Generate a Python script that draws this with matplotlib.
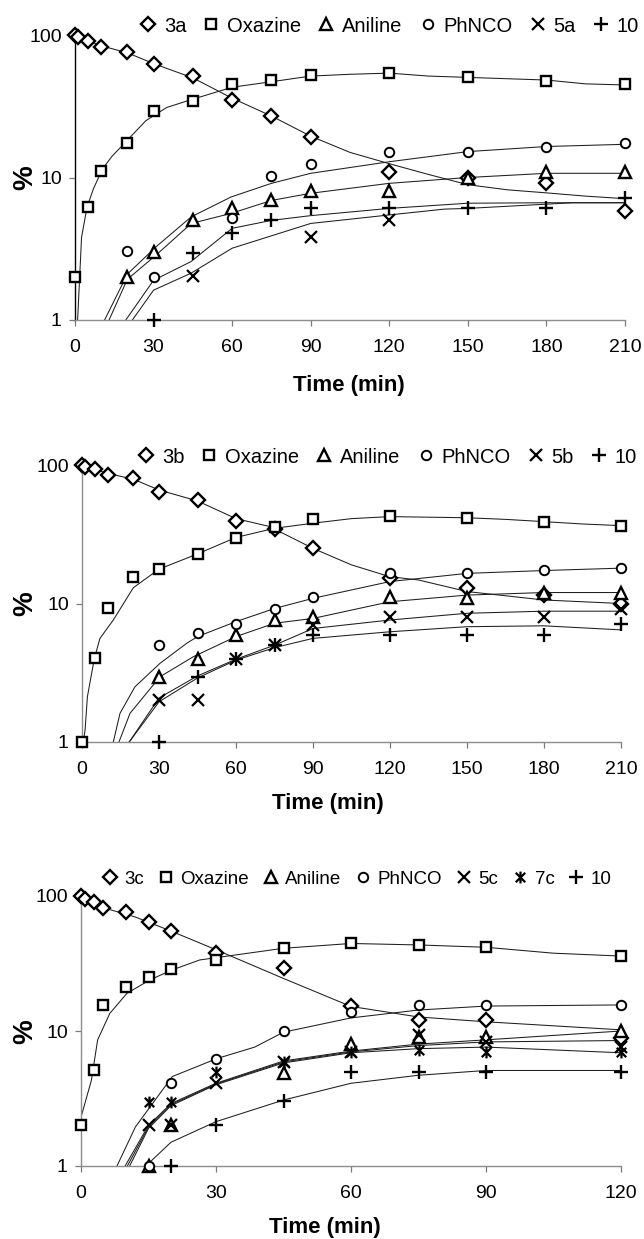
import matplotlib
matplotlib.use('Agg')
import matplotlib.pyplot as plt
from matplotlib.path import Path
from matplotlib.lines import Line2D
from matplotlib.ticker import NullLocator, FixedLocator, FixedFormatter

plt.rcParams['font.family'] = ['Liberation Sans', 'DejaVu Sans']

# ---------------- Panel A data (3a) ----------------
a_t_3 = [0, 1, 5, 10, 20, 30, 45, 60, 75, 90, 120, 150, 180, 210]
a_v_3 = [100, 97, 91, 83, 75.6, 62.6, 51.6, 35, 27.2, 19.3, 11, 10, 9.2, 5.8]
a_t_ox = [0, 5, 10, 20, 30, 45, 60, 75, 90, 120, 150, 180, 210]
a_v_ox = [2.0, 6.2, 11.1, 17.4, 29.3, 34.3, 45, 48.3, 52.7, 54.4, 51, 47.8, 45]
a_t_an = [20, 30, 45, 60, 75, 90, 120, 150, 180, 210]
a_v_an = [2.0, 3.0, 5.0, 6.1, 7.0, 8.0, 8.1, 10, 11, 11]
a_t_ph = [20, 30, 60, 75, 90, 120, 150, 180, 210]
a_v_ph = [3.05, 2.0, 5.2, 10.2, 12.4, 15.2, 15.2, 16.3, 17.4]
a_t_5 = [45, 90, 120]
a_v_5 = [2.04, 3.8, 5.0]
a_t_10 = [30, 45, 60, 75, 90, 120, 150, 180, 210]
a_v_10 = [1.0, 2.97, 4.1, 5.03, 6.07, 6.07, 6.07, 6.07, 7.14]

# fitted curves, panel A
a_ct_3 = [0, 5, 10, 20, 30, 45, 60, 75, 90, 105, 120, 135, 150, 165, 180, 195, 210]
a_cv_3 = [100, 91, 84, 75, 63, 50, 36, 27, 19.5, 15, 12.5, 10.5, 8.9, 8.2, 7.8, 7.4, 7.1]
a_ct_ox = [1, 2.5, 4.6, 7, 9, 11, 14, 17, 22, 27, 35, 44, 60, 75, 90, 105, 120, 135, 150, 180, 195, 210]
a_cv_ox = [1, 3.8, 6.2, 8.3, 10, 11.8, 14, 16, 20, 25, 31, 35, 43, 47, 51.5, 53, 54, 51.5, 50.4, 48.3, 45.4, 44.6]
a_ct_ph = [11.3, 20, 31, 44.4, 59.6, 75, 90, 120, 150, 180, 210]
a_cv_ph = [1, 2.1, 3.27, 5.3, 7.3, 9.1, 10.7, 12.9, 15.2, 16.5, 17.1]
a_ct_an = [13, 20, 31, 44.4, 59.6, 75, 90, 120, 150, 180, 210]
a_cv_an = [1, 1.93, 2.86, 4.76, 5.6, 6.9, 7.75, 9.1, 10, 10.7, 10.7]
a_ct_10 = [19.4, 30, 44.3, 60, 75, 90, 120, 150, 180, 210]
a_cv_10 = [1, 1.9, 2.57, 4.4, 5.0, 5.4, 6.07, 6.6, 6.65, 6.65]
a_ct_5 = [21.9, 30, 44.3, 60, 90, 120, 141, 150, 180, 190, 210]
a_cv_5 = [1, 1.62, 2.13, 3.19, 4.76, 5.46, 6.0, 6.07, 6.5, 6.65, 6.65]

# ---------------- Panel B data (3b) ----------------
b_t_3 = [0, 1, 5, 10, 20, 30, 45, 60, 75, 90, 120, 150, 180, 210]
b_v_3 = [100, 97, 93.5, 84.7, 80.2, 64.2, 55.9, 39.6, 34.3, 25.3, 15.2, 13, 11.5, 10]
b_t_ox = [0, 5, 10, 20, 30, 45, 60, 75, 90, 120, 150, 180, 210]
b_v_ox = [1.0, 4.02, 9.23, 15.6, 17.7, 22.8, 29.6, 35.9, 40.5, 43, 41.6, 39, 36.5]
b_t_an = [30, 45, 60, 75, 90, 120, 150, 180, 210]
b_v_an = [2.93, 3.96, 5.9, 7.6, 8.03, 11.2, 10.9, 12, 12]
b_t_ph = [30, 45, 60, 75, 90, 120, 150, 180, 210]
b_v_ph = [5.0, 6.1, 7.1, 9.2, 11.2, 16.5, 16.5, 17.5, 18.1]
b_t_5 = [30, 45, 60, 75, 90, 120, 150, 180, 210]
b_v_5 = [2.01, 2.0, 3.96, 5.0, 7.0, 8.0, 8.0, 8.0, 9.2]
b_t_10 = [30, 45, 60, 75, 90, 120, 150, 180, 210]
b_v_10 = [1.0, 2.96, 3.96, 5.0, 5.9, 5.9, 5.9, 5.9, 7.1]

b_ct_3 = [0, 5, 10, 20, 30, 45, 60, 73, 90, 105, 120, 131, 150, 180, 210]
b_cv_3 = [100, 93, 87, 79, 66, 55, 41, 36, 25, 19, 15.6, 14.8, 12.2, 10.6, 10.0]
b_ct_ox = [0.5, 1.2, 2.1, 4.8, 7, 12.2, 20, 30, 45, 60, 75, 90, 105, 120, 135, 150, 165, 180, 195, 210]
b_cv_ox = [1, 1.22, 2.12, 4.0, 5.6, 7.6, 13, 17.7, 22.8, 30, 34.9, 38, 41, 42.4, 42, 41.6, 40.5, 39, 37.5, 36.5]
b_ct_ph = [12.2, 14.8, 20.6, 30.4, 40.8, 45, 60, 75, 90, 120, 150, 180, 210]
b_cv_ph = [1, 1.61, 2.5, 3.7, 5.16, 5.77, 7.4, 9.2, 10.9, 14.4, 16.5, 17.3, 18]
b_ct_an = [14.4, 18.7, 30.4, 43.4, 60, 75, 90, 120, 150, 180, 210]
b_cv_an = [1, 1.61, 2.96, 4.13, 5.77, 7.2, 7.8, 10.3, 11.5, 12, 12]
b_ct_5 = [18.4, 30, 45, 60, 75, 90, 120, 150, 180, 210]
b_cv_5 = [1, 2.08, 3.0, 3.96, 5.0, 6.6, 7.6, 8.5, 8.8, 8.8]
b_ct_10 = [18.4, 30, 45, 60, 75, 90, 120, 150, 180, 210]
b_cv_10 = [1, 1.95, 2.9, 3.9, 4.8, 5.6, 6.25, 6.8, 6.9, 6.45]

# ---------------- Panel C data (3c) ----------------
c_t_3 = [0, 1, 3, 5, 10, 15, 20, 30, 45, 60, 75, 90, 120]
c_v_3 = [100, 94.5, 89.8, 81.9, 76.5, 63.8, 55.3, 38, 29.1, 15.3, 12.1, 12.1, 8.8]
c_t_ox = [0, 3, 5, 10, 15, 20, 30, 45, 60, 75, 90, 120]
c_v_ox = [2.01, 5.14, 15.6, 21.3, 25, 28.8, 33.6, 41, 45.1, 43.4, 42.1, 35.9]
c_t_an = [15, 20, 45, 60, 75, 90, 120]
c_v_an = [1.0, 2.0, 4.9, 8.0, 9.0, 9.0, 10.0]
c_t_ph = [15, 20, 30, 45, 60, 75, 90, 120]
c_v_ph = [1.0, 4.1, 6.17, 10.05, 13.9, 15.6, 15.6, 15.6]
c_t_5 = [15, 20, 30, 45, 60, 75, 90, 120]
c_v_5 = [2.0, 2.0, 4.1, 5.9, 7.0, 9.3, 8.3, 7.6]
c_t_7 = [15, 20, 30, 45, 60, 75, 90, 120]
c_v_7 = [3.0, 3.0, 5.0, 5.9, 7.0, 7.2, 7.0, 7.0]
c_t_10 = [20, 30, 45, 60, 75, 90, 120]
c_v_10 = [1.0, 2.0, 3.03, 5.0, 5.0, 5.0, 5.0]

c_ct_3 = [0, 3, 6, 12, 20, 30, 45, 60, 75, 90, 120]
c_cv_3 = [100, 90, 80, 70, 55, 40, 24.5, 15.2, 12.7, 11.7, 10.2]
c_ct_ox = [0, 2.3, 3.7, 6.4, 10.2, 15.3, 20.2, 26.4, 45, 60, 75, 90, 105, 120]
c_cv_ox = [2.3, 4.3, 8.6, 13.5, 19, 23.9, 28.3, 33.6, 41, 44.5, 43.4, 41.7, 37.7, 35.9]
c_ct_ph = [8, 12.1, 20.3, 30.2, 38.6, 45, 60, 75, 90, 120]
c_cv_ph = [1, 1.95, 4.6, 6.25, 7.6, 9.8, 12.5, 14.3, 15.3, 15.6]
c_ct_an = [9.8, 15, 20, 30, 45, 60, 75, 90, 120]
c_cv_an = [1, 2.0, 2.9, 4.1, 6.0, 7.1, 8.0, 8.6, 10.0]
c_ct_5 = [10.3, 15, 20, 30, 45, 60, 75, 90, 120]
c_cv_5 = [1, 1.95, 2.85, 4.05, 5.9, 7.0, 7.8, 8.3, 8.5]
c_ct_7 = [10.8, 15, 20, 30, 45, 60, 75, 90, 120]
c_cv_7 = [1, 1.9, 2.8, 4.0, 5.8, 6.9, 7.4, 7.6, 6.9]
c_ct_10 = [14.4, 20, 30, 45, 60, 75, 90, 120]
c_cv_10 = [1, 1.5, 2.13, 3.08, 4.1, 4.7, 5.1, 5.1]

labels_a = ['3a', 'Oxazine', 'Aniline', 'PhNCO', '5a', '10']
labels_b = ['3b', 'Oxazine', 'Aniline', 'PhNCO', '5b', '10']
labels_c = ['3c', 'Oxazine', 'Aniline', 'PhNCO', '5c', '7c', '10']
xticks_ab = [0, 30, 60, 90, 120, 150, 180, 210]
xticks_c = [0, 30, 60, 90, 120]
yticks = [1, 10, 100]

# ---------------- styling ----------------
W, H = 644, 1239
fig = plt.figure(figsize=(W / 100, H / 100), dpi=100)

asterisk = Path([(-1, -1), (1, 1), (-1, 1), (1, -1), (0, -1.25), (0, 1.25)],
                [Path.MOVETO, Path.LINETO] * 3)
STY = {
    'D': dict(marker='D', ms=7.0, mew=1.7),
    's': dict(marker='s', ms=7.2, mew=1.7),
    '^': dict(marker='^', ms=8.5, mew=1.7),
    'o': dict(marker='o', ms=6.8, mew=1.4),
    'x': dict(marker='x', ms=8.5, mew=1.6),
    '*': dict(marker=asterisk, ms=8.5, mew=1.6),
    '+': dict(marker='+', ms=10.5, mew=1.7),
}


def rect(l, r, top, bottom):
    return [l / W, 1 - bottom / H, (r - l) / W, (bottom - top) / H]


def panel(box, xmax, xticks, curves, series, labels, leg_x, leg_y, leg_fs,
          colsp, left_color, pct_y, time_xy):
    ax = fig.add_axes(rect(*box))
    for ct, cv in curves:
        ax.plot(ct, cv, color='#1e1e1e', lw=0.75, solid_joinstyle='round', zorder=2)
    handles = []
    for (t, v, m) in series:
        st = STY[m]
        ax.plot(t, v, linestyle='none', marker=st['marker'], ms=st['ms'], mew=st['mew'],
                mec='black', mfc='white', clip_on=False, zorder=3)
        handles.append(Line2D([], [], linestyle='none', marker=st['marker'], ms=st['ms'],
                              mew=st['mew'], mec='black', mfc='white'))
    ax.set_yscale('log')
    ax.set_ylim(1, 100)
    ax.set_xlim(0, xmax)
    ax.yaxis.set_major_locator(FixedLocator(yticks))
    ax.yaxis.set_major_formatter(FixedFormatter([str(y) for y in yticks]))
    ax.yaxis.set_minor_locator(NullLocator())
    ax.set_xticks(xticks)
    ax.set_xticklabels([str(x) for x in xticks])
    for s in ('top', 'right'):
        ax.spines[s].set_visible(False)
    ax.spines['bottom'].set_color('#8c8c8c')
    ax.spines['bottom'].set_linewidth(1.0)
    ax.spines['left'].set_color(left_color)
    ax.spines['left'].set_linewidth(1.0)
    ax.tick_params(axis='x', direction='out', length=4.5, width=0.9, color='#7a7a7a',
                   labelsize=14, pad=9)
    ax.tick_params(axis='y', direction='out', length=4.5, width=0.9, color='#7a7a7a',
                   labelsize=14, pad=5)
    ax.patch.set_alpha(0)
    hl = 0.8
    fs_px = leg_fs * 100 / 72
    ax.legend(handles, labels, ncol=len(labels), loc='center left',
              bbox_to_anchor=((leg_x - hl * fs_px / 2) / W, 1 - leg_y / H),
              bbox_transform=fig.transFigure, frameon=False, borderpad=0,
              borderaxespad=0, handlelength=hl, handletextpad=0.38,
              columnspacing=colsp, fontsize=leg_fs)
    fig.text(25 / W, 1 - pct_y / H, '%', rotation=90, fontsize=20, fontweight='bold',
             ha='center', va='center')
    fig.text(time_xy[0] / W, 1 - time_xy[1] / H, 'Time (min)', fontsize=16,
             fontweight='bold', ha='center', va='center')
    return ax


panel((75, 625, 35, 320), 210, xticks_ab,
      [(a_ct_3, a_cv_3), (a_ct_ox, a_cv_ox), (a_ct_ph, a_cv_ph), (a_ct_an, a_cv_an),
       (a_ct_10, a_cv_10), (a_ct_5, a_cv_5)],
      [(a_t_3, a_v_3, 'D'), (a_t_ox, a_v_ox, 's'), (a_t_an, a_v_an, '^'),
       (a_t_ph, a_v_ph, 'o'), (a_t_5, a_v_5, 'x'), (a_t_10, a_v_10, '+')],
      labels_a, 148, 26, 14.5, 0.85, 'black', 178, (349, 385))

panel((82, 621, 465, 742), 210, xticks_ab,
      [(b_ct_3, b_cv_3), (b_ct_ox, b_cv_ox), (b_ct_ph, b_cv_ph), (b_ct_an, b_cv_an),
       (b_ct_5, b_cv_5), (b_ct_10, b_cv_10)],
      [(b_t_3, b_v_3, 'D'), (b_t_ox, b_v_ox, 's'), (b_t_an, b_v_an, '^'),
       (b_t_ph, b_v_ph, 'o'), (b_t_5, b_v_5, 'x'), (b_t_10, b_v_10, '+')],
      labels_b, 146, 457, 14.5, 0.85, '#8c8c8c', 604, (328, 804))

panel((81, 621, 896, 1166), 120, xticks_c,
      [(c_ct_3, c_cv_3), (c_ct_ox, c_cv_ox), (c_ct_ph, c_cv_ph), (c_ct_an, c_cv_an),
       (c_ct_5, c_cv_5), (c_ct_7, c_cv_7), (c_ct_10, c_cv_10)],
      [(c_t_3, c_v_3, 'D'), (c_t_ox, c_v_ox, 's'), (c_t_an, c_v_an, '^'),
       (c_t_ph, c_v_ph, 'o'), (c_t_5, c_v_5, 'x'), (c_t_7, c_v_7, '*'),
       (c_t_10, c_v_10, '+')],
      labels_c, 110, 879, 13.5, 0.75, '#8c8c8c', 1032, (325, 1228))

fig.savefig('out.png', dpi=100)
